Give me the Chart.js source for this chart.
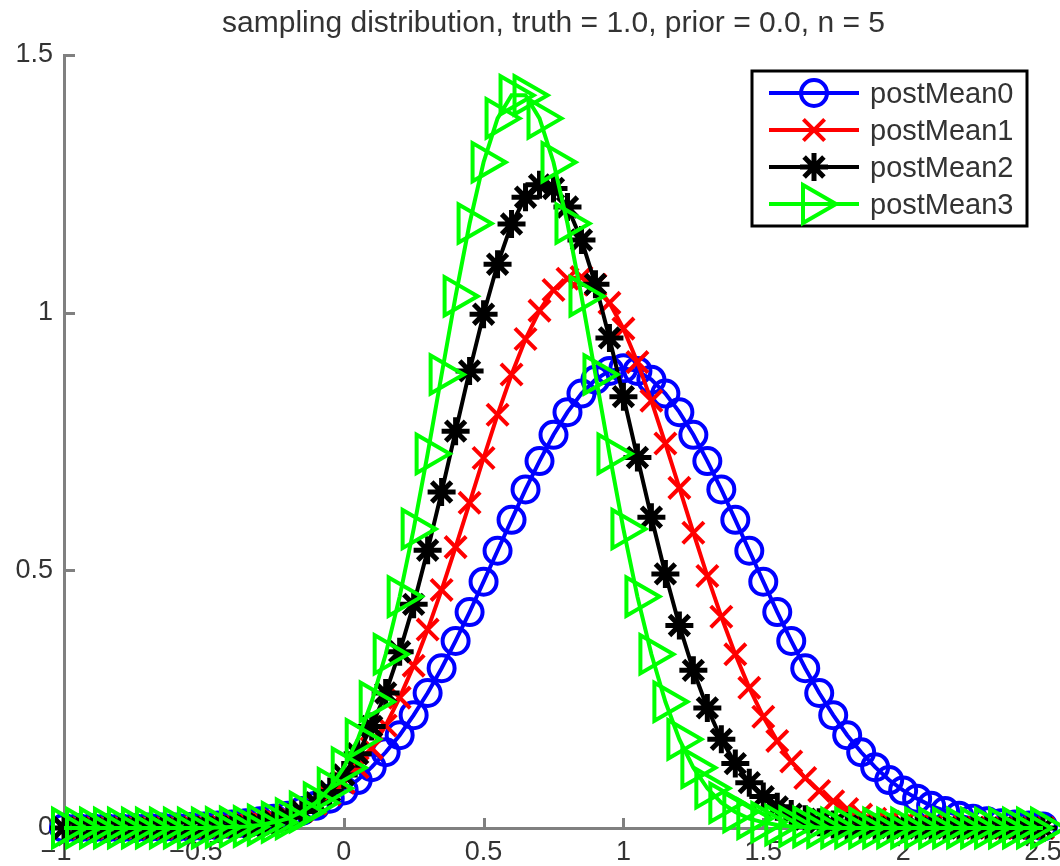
<!DOCTYPE html>
<html>
<head>
<meta charset="utf-8">
<script src="https://cdn.jsdelivr.net/npm/chart.js@4/dist/chart.umd.min.js"></script>
<style>
html, body { margin: 0; padding: 0; background: #ffffff; }
canvas { display: block; }
</style>
</head>
<body>
<canvas id="c" width="1060" height="866"></canvas>
<script>
const titleText = 'sampling distribution, truth = 1.0, prior = 0.0, n = 5';
const seriesLabels = ['postMean0', 'postMean1', 'postMean2', 'postMean3'];

const xValues = [
  -1, -0.95, -0.9, -0.85, -0.8, -0.75, -0.7, -0.65, -0.6, -0.55,
  -0.5, -0.45, -0.4, -0.35, -0.3, -0.25, -0.2, -0.15, -0.1, -0.05,
  0, 0.05, 0.1, 0.15, 0.2, 0.25, 0.3, 0.35, 0.4, 0.45,
  0.5, 0.55, 0.6, 0.65, 0.7, 0.75, 0.8, 0.85, 0.9, 0.95,
  1, 1.05, 1.1, 1.15, 1.2, 1.25, 1.3, 1.35, 1.4, 1.45,
  1.5, 1.55, 1.6, 1.65, 1.7, 1.75, 1.8, 1.85, 1.9, 1.95,
  2, 2.05, 2.1, 2.15, 2.2, 2.25, 2.3, 2.35, 2.4, 2.45,
  2.5
];

const postMean0 = [
  0.000, 0.000, 0.000, 0.000, 0.000, 0.000, 0.001, 0.001, 0.001, 0.002,
  0.003, 0.005, 0.007, 0.009, 0.013, 0.018, 0.024, 0.033, 0.043, 0.057,
  0.073, 0.093, 0.118, 0.147, 0.180, 0.219, 0.262, 0.310, 0.363, 0.419,
  0.478, 0.538, 0.598, 0.657, 0.712, 0.763, 0.807, 0.843, 0.870, 0.887,
  0.892, 0.887, 0.870, 0.843, 0.807, 0.763, 0.712, 0.657, 0.598, 0.538,
  0.478, 0.419, 0.363, 0.310, 0.262, 0.219, 0.180, 0.147, 0.118, 0.093,
  0.073, 0.057, 0.043, 0.033, 0.024, 0.018, 0.013, 0.009, 0.007, 0.005,
  0.003
];

const postMean1 = [
  0.000, 0.000, 0.000, 0.000, 0.000, 0.000, 0.000, 0.000, 0.001, 0.001,
  0.002, 0.003, 0.005, 0.007, 0.011, 0.016, 0.023, 0.033, 0.047, 0.065,
  0.088, 0.118, 0.155, 0.199, 0.253, 0.315, 0.385, 0.462, 0.545, 0.631,
  0.718, 0.802, 0.880, 0.949, 1.004, 1.044, 1.066, 1.069, 1.054, 1.019,
  0.969, 0.904, 0.829, 0.746, 0.660, 0.573, 0.489, 0.410, 0.337, 0.272,
  0.216, 0.169, 0.129, 0.097, 0.072, 0.052, 0.037, 0.026, 0.018, 0.012,
  0.008, 0.005, 0.003, 0.002, 0.001, 0.001, 0.000, 0.000, 0.000, 0.000,
  0.000
];

const postMean2 = [
  0.000, 0.000, 0.000, 0.000, 0.000, 0.000, 0.000, 0.000, 0.000, 0.001,
  0.001, 0.002, 0.003, 0.005, 0.008, 0.013, 0.021, 0.032, 0.049, 0.071,
  0.103, 0.144, 0.197, 0.262, 0.342, 0.434, 0.539, 0.652, 0.770, 0.887,
  0.997, 1.094, 1.172, 1.224, 1.248, 1.241, 1.205, 1.141, 1.055, 0.951,
  0.837, 0.719, 0.603, 0.493, 0.393, 0.306, 0.233, 0.172, 0.125, 0.088,
  0.061, 0.041, 0.027, 0.017, 0.011, 0.007, 0.004, 0.002, 0.001, 0.001,
  0.000, 0.000, 0.000, 0.000, 0.000, 0.000, 0.000, 0.000, 0.000, 0.000,
  0.000
];

const postMean3 = [
  0.000, 0.000, 0.000, 0.000, 0.000, 0.000, 0.000, 0.000, 0.000, 0.000,
  0.000, 0.001, 0.002, 0.003, 0.006, 0.011, 0.018, 0.031, 0.049, 0.077,
  0.117, 0.172, 0.245, 0.337, 0.449, 0.580, 0.726, 0.880, 1.032, 1.173,
  1.292, 1.377, 1.422, 1.422, 1.377, 1.292, 1.173, 1.032, 0.880, 0.726,
  0.580, 0.449, 0.337, 0.245, 0.172, 0.117, 0.077, 0.049, 0.031, 0.018,
  0.011, 0.006, 0.003, 0.002, 0.001, 0.000, 0.000, 0.000, 0.000, 0.000,
  0.000, 0.000, 0.000, 0.000, 0.000, 0.000, 0.000, 0.000, 0.000, 0.000,
  0.000
];

const xTicks = [-1, -0.5, 0, 0.5, 1, 1.5, 2, 2.5];
const xTickLabels = ['\u22121', '\u22120.5', '0', '0.5', '1', '1.5', '2', '2.5'];
const yTicks = [0, 0.5, 1, 1.5];
const yTickLabels = ['0', '0.5', '1', '1.5'];

const seriesValues = [postMean0, postMean1, postMean2, postMean3];
const seriesColors = ['#0000ff', '#ff0000', '#000000', '#00ff00'];
const seriesStyles = [
  { pointStyle: 'circle', radius: 13, rotation: 0, width: 4 },
  { pointStyle: 'crossRot', radius: 15, rotation: 0, width: 4 },
  { pointStyle: 'star', radius: 14, rotation: 0, width: 5 },
  { pointStyle: 'triangle', radius: 22, rotation: 90, width: 4 }
];

const FONT = 'Liberation Sans, Arial, Helvetica, sans-serif';
const TEXT_COLOR = '#333333';
const AXIS_COLOR = '#808080';
const TICK_FONT_SIZE = 27;

const datasets = seriesValues.map((vals, k) => ({
  label: seriesLabels[k],
  data: xValues.map((x, i) => ({ x: x, y: vals[i] })),
  borderColor: seriesColors[k],
  backgroundColor: 'rgba(0,0,0,0)',
  borderWidth: 4,
  pointStyle: seriesStyles[k].pointStyle,
  pointRadius: seriesStyles[k].radius,
  pointRotation: seriesStyles[k].rotation,
  pointBorderWidth: seriesStyles[k].width,
  pointBorderColor: seriesColors[k],
  pointBackgroundColor: 'rgba(0,0,0,0)',
  pointHoverRadius: seriesStyles[k].radius,
  tension: 0,
  fill: false,
  clip: false,
  order: 3 - k
}));

// inward tick marks + x tick labels (numbers centred on the tick, minus sign hanging left)
const axisDecor = {
  id: 'axisDecor',
  beforeDatasetsDraw(chart) {
    const ctx = chart.ctx;
    const a = chart.chartArea;
    const xs = chart.scales.x, ys = chart.scales.y;
    ctx.save();
    ctx.strokeStyle = AXIS_COLOR;
    ctx.lineWidth = 3;
    ctx.beginPath();
    xTicks.forEach(v => {
      const px = Math.round(xs.getPixelForValue(v)) + 0.5;
      ctx.moveTo(px, a.bottom);
      ctx.lineTo(px, a.bottom - 10);
    });
    yTicks.forEach(v => {
      const py = Math.round(ys.getPixelForValue(v)) + 0.5;
      ctx.moveTo(a.left, py);
      ctx.lineTo(a.left + 11, py);
    });
    ctx.stroke();

    ctx.fillStyle = TEXT_COLOR;
    ctx.font = TICK_FONT_SIZE + 'px ' + FONT;
    ctx.textAlign = 'left';
    ctx.textBaseline = 'middle';
    const ly = a.bottom + 25;
    xTicks.forEach((v, i) => {
      const lbl = xTickLabels[i];
      const px = xs.getPixelForValue(v);
      const w = ctx.measureText(lbl).width;
      let m = 0;
      if (lbl.startsWith('\u2212')) m = ctx.measureText('\u2212').width;
      ctx.fillText(lbl, px - (w - m) / 2 - m, ly);
    });
    ctx.restore();
  }
};

function drawMarker(ctx, style, x, y, color) {
  ctx.save();
  ctx.strokeStyle = color;
  ctx.fillStyle = 'rgba(0,0,0,0)';
  ctx.lineWidth = style.width;
  if (Chart.helpers && Chart.helpers.drawPoint) {
    Chart.helpers.drawPoint(ctx, {
      pointStyle: style.pointStyle,
      rotation: style.rotation,
      radius: style.radius,
      borderWidth: style.width
    }, x, y);
  } else {
    ctx.beginPath();
    ctx.arc(x, y, style.radius, 0, Math.PI * 2);
    ctx.stroke();
  }
  ctx.restore();
}

const boxLegend = {
  id: 'boxLegend',
  afterDatasetsDraw(chart) {
    const ctx = chart.ctx;
    const left = 752, top = 71, right = 1027, bottom = 226;
    ctx.save();
    ctx.fillStyle = '#ffffff';
    ctx.fillRect(left, top, right - left, bottom - top);
    ctx.strokeStyle = '#000000';
    ctx.lineWidth = 3;
    ctx.strokeRect(left, top, right - left, bottom - top);
    chart.data.datasets.forEach((ds, k) => {
      const y = 93 + 37 * k;
      ctx.strokeStyle = seriesColors[k];
      ctx.lineWidth = 4;
      ctx.beginPath();
      ctx.moveTo(769, y);
      ctx.lineTo(859, y);
      ctx.stroke();
      drawMarker(ctx, seriesStyles[k], 814, y, seriesColors[k]);
      ctx.fillStyle = TEXT_COLOR;
      ctx.font = '29px ' + FONT;
      ctx.textAlign = 'left';
      ctx.textBaseline = 'middle';
      ctx.fillText(ds.label, 870, y + 2);
    });
    ctx.restore();
  }
};

new Chart(document.getElementById('c'), {
  type: 'line',
  data: { datasets: datasets },
  options: {
    responsive: false,
    animation: false,
    devicePixelRatio: 1,
    layout: { autoPadding: false, padding: { left: 0, right: 17, top: 0, bottom: 0 } },
    plugins: {
      legend: { display: false },
      tooltip: { enabled: false },
      title: {
        display: true,
        fullSize: false,
        text: titleText,
        color: TEXT_COLOR,
        font: { family: FONT, size: 30, weight: 'normal', lineHeight: 1.2 },
        padding: { top: 6, bottom: 13 }
      }
    },
    scales: {
      x: {
        type: 'linear',
        min: -1,
        max: 2.5,
        afterBuildTicks: s => { s.ticks = xTicks.map(v => ({ value: v })); },
        afterFit: s => { s.height = 38; },
        ticks: { display: false },
        grid: { drawOnChartArea: false, drawTicks: false },
        border: { display: true, color: AXIS_COLOR, width: 3 }
      },
      y: {
        type: 'linear',
        min: 0,
        max: 1.5,
        afterBuildTicks: s => { s.ticks = yTicks.map(v => ({ value: v })); },
        afterFit: s => { s.width = 64; },
        ticks: {
          padding: 11,
          color: TEXT_COLOR,
          font: { family: FONT, size: TICK_FONT_SIZE },
          callback: (v) => yTickLabels[yTicks.indexOf(v)]
        },
        grid: { drawOnChartArea: false, drawTicks: false },
        border: { display: true, color: AXIS_COLOR, width: 3 }
      }
    }
  },
  plugins: [axisDecor, boxLegend]
});
</script>
</body>
</html>
